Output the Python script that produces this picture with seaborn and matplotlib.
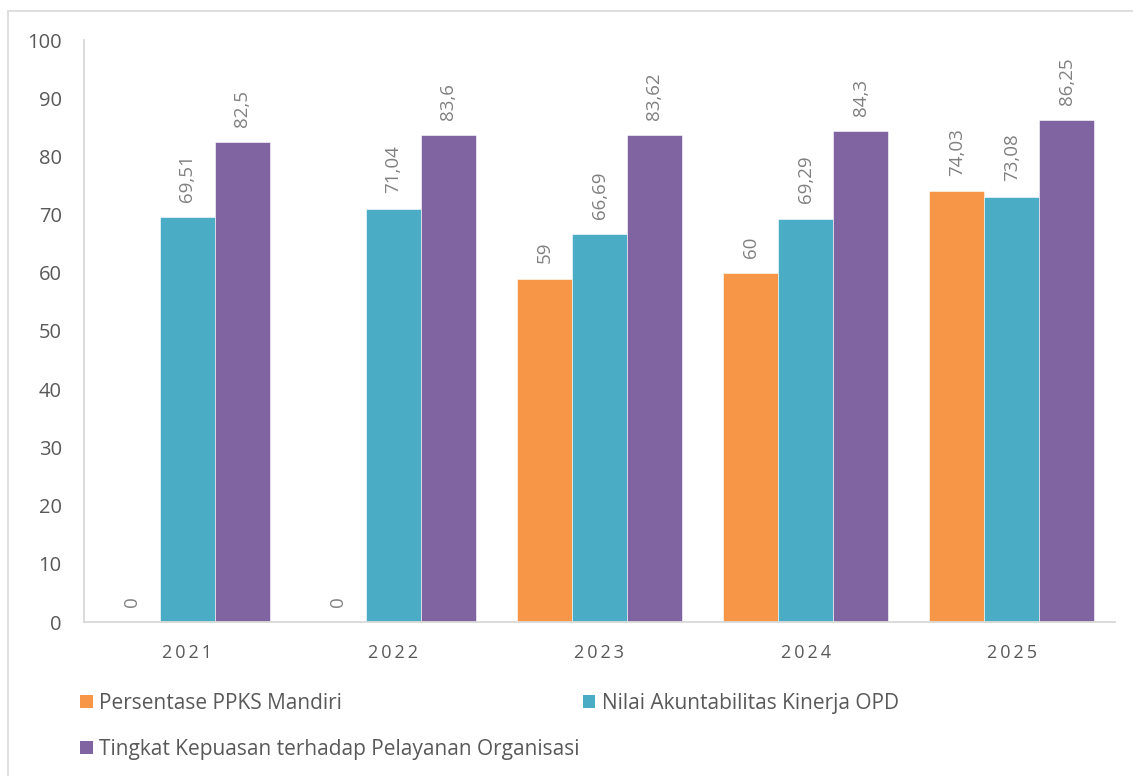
import matplotlib
matplotlib.use("Agg")
import matplotlib.pyplot as plt
from matplotlib.lines import Line2D
from matplotlib.patches import Patch
import seaborn as sns
import pandas as pd

years = ["2021", "2022", "2023", "2024", "2025"]
series_names = [
    "Persentase PPKS Mandiri",
    "Nilai Akuntabilitas Kinerja OPD",
    "Tingkat Kepuasan terhadap Pelayanan Organisasi",
]
ppks = [0, 0, 59, 60, 74.03]
akuntabilitas = [69.51, 71.04, 66.69, 69.29, 73.08]
kepuasan = [82.5, 83.6, 83.62, 84.3, 86.25]
colors = ["#F79646", "#4BACC6", "#8064A2"]
yticks = [0, 10, 20, 30, 40, 50, 60, 70, 80, 90, 100]

rows = []
for name, vals in zip(series_names, [ppks, akuntabilitas, kepuasan]):
    for y, v in zip(years, vals):
        rows.append({"Tahun": y, "Seri": name, "Nilai": v})
df = pd.DataFrame(rows)

sns.set_style("white")
plt.rcParams["font.family"] = ["Open Sans", "DejaVu Sans"]

W, H = 1133, 776
fig = plt.figure(figsize=(W / 100, H / 100), dpi=100)
ax = fig.add_axes([84 / W, 1 - 622 / H, (1115 - 84) / W, (622 - 40) / H])

sns.barplot(data=df, x="Tahun", y="Nilai", hue="Seri", order=years,
            hue_order=series_names, palette=colors, width=0.8, gap=0,
            saturation=1, ax=ax, legend=False, edgecolor="white", linewidth=0.4)

def fmt(v):
    return ("%g" % v).replace(".", ",")

for cont in ax.containers:
    ax.bar_label(cont, labels=[fmt(b.get_height()) for b in cont], rotation=90,
                 padding=11, color="#808080", fontsize=13.5)

ax.set_ylim(0, 100)
ax.set_yticks(yticks)
ax.set_xlim(-0.5, len(years) - 0.5)
ax.set_xlabel("")
ax.set_ylabel("")
ax.set_xticks(range(len(years)))
ax.set_xticklabels(["\u2009".join(y) for y in years])
ax.tick_params(axis="y", length=0, pad=16, labelsize=14.5, labelcolor="#595959")
ax.tick_params(axis="x", length=0, pad=16, labelsize=13, labelcolor="#595959")
for s in ["top", "right"]:
    ax.spines[s].set_visible(False)
for s in ["left", "bottom"]:
    ax.spines[s].set_color("#d9d9d9")
    ax.spines[s].set_linewidth(1.3)

handles = [Patch(facecolor=c, edgecolor="none") for c in colors]
order = [0, 2, 1]
leg = fig.legend([handles[i] for i in order], [series_names[i] for i in order],
                 ncol=2, loc="upper left", bbox_to_anchor=(61 / W, 1 - 674 / H),
                 frameon=False, fontsize=15, handlelength=0.62, handleheight=0.62,
                 handletextpad=0.3, columnspacing=0.15, labelspacing=1.2,
                 labelcolor="#595959")

# figure border (top and left)
fig.add_artist(Line2D([8 / W, 1.0], [1 - 11 / H, 1 - 11 / H], color="#d9d9d9", lw=1.2,
                      transform=fig.transFigure))
fig.add_artist(Line2D([8 / W, 8 / W], [0, 1 - 11 / H], color="#d9d9d9", lw=1.2,
                      transform=fig.transFigure))

fig.savefig("out.png", dpi=100)
